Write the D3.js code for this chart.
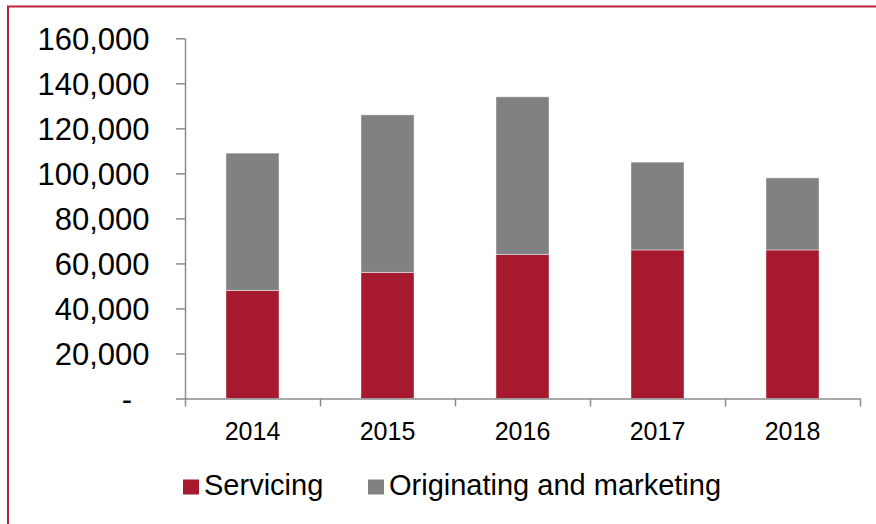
<!DOCTYPE html>
<html>
<head>
<meta charset="utf-8">
<script src="https://cdn.jsdelivr.net/npm/d3@7"></script>
<style>
  body { margin: 0; background: #fff; }
  svg text { font-family: "Liberation Sans", Arial, sans-serif; fill: #000; }
</style>
</head>
<body>
<svg id="chart" width="876" height="524"></svg>
<script>
//Chart data
var years = ["2014", "2015", "2016", "2017", "2018"];
var servicing = [48000, 56000, 64000, 66000, 66000];
var originating = [61000, 70000, 70000, 39000, 32000];
var seriesNames = ["Servicing", "Originating and marketing"];
var yTicks = [0, 20000, 40000, 60000, 80000, 100000, 120000, 140000, 160000];

var redColor = "#a6192e";
var greyColor = "#808183";
var axisColor = "#8c8c8c";

var svg = d3.select("svg#chart");

//Frame round the chart (only left and top are visible)
svg.append("rect")
  .attr("x", 8)
  .attr("y", 6.5)
  .attr("width", 900)
  .attr("height", 540)
  .attr("fill", "none")
  .attr("stroke", "#b8223a")
  .attr("stroke-width", 2);

var plot = { left: 185, right: 860, top: 38.3, bottom: 398.5 };

//Scales
var x = d3.scaleBand()
  .domain(years)
  .range([plot.left, plot.right])
  .paddingInner(0.607)
  .paddingOuter(0.607 / 2);

var y = d3.scaleLinear()
  .domain([0, 160000])
  .range([plot.bottom, plot.top]);

//Stack the two series
var table = years.map(function (d, i) {
  return { year: d, servicing: servicing[i], originating: originating[i] };
});
var stacked = d3.stack().keys(["servicing", "originating"])(table);
var colors = [redColor, greyColor];

svg.append("g")
  .selectAll("g")
  .data(stacked)
  .enter().append("g")
    .attr("fill", function (d, i) { return colors[i]; })
  .selectAll("rect")
  .data(function (d) { return d; })
  .enter().append("rect")
    .attr("x", function (d) { return x(d.data.year); })
    .attr("y", function (d) { return y(d[1]); })
    .attr("width", x.bandwidth())
    .attr("height", function (d) { return y(d[0]) - y(d[1]); })
    .attr("stroke", "rgba(255,255,255,0.45)")
    .attr("stroke-width", 1);

//Y axis
var yAxis = svg.append("g")
  .attr("transform", "translate(" + plot.left + ",0)")
  .call(d3.axisLeft(y)
    .tickValues(yTicks)
    .tickSize(9)
    .tickSizeOuter(0)
    .tickPadding(26.5)
    .tickFormat(function (d) { return d === 0 ? "-" : d3.format(",")(d); }));

yAxis.selectAll("text")
  .style("font-size", "31px")
  .attr("dy", "0.35em")
  .attr("dx", function (d) { return d === 0 ? -17.5 : 0; });

//X axis line with ticks at the category boundaries
var xb = d3.scaleLinear().domain([0, years.length]).range([plot.left, plot.right]);
svg.append("g")
  .attr("transform", "translate(0," + plot.bottom + ")")
  .call(d3.axisBottom(xb)
    .tickValues(d3.range(years.length + 1))
    .tickSize(8)
    .tickSizeOuter(0)
    .tickFormat(""));

//X labels
var xAxis = svg.append("g")
  .attr("transform", "translate(0," + plot.bottom + ")")
  .call(d3.axisBottom(x).tickSize(0).tickPadding(0));
xAxis.select(".domain").remove();
xAxis.selectAll("text")
  .style("font-size", "25px")
  .attr("y", 41)
  .attr("dy", 0);

svg.selectAll(".domain, .tick line")
  .attr("stroke", axisColor)
  .attr("stroke-width", 1.5);

//Legend
var legendX = [183, 368];
var legend = svg.append("g")
  .selectAll("g")
  .data(seriesNames)
  .enter().append("g")
    .attr("transform", function (d, i) { return "translate(" + legendX[i] + ",0)"; });

legend.append("rect")
  .attr("x", 0)
  .attr("y", 479.5)
  .attr("width", 16)
  .attr("height", 15)
  .attr("fill", function (d, i) { return colors[i]; });

legend.append("text")
  .attr("x", 21)
  .attr("y", 494.5)
  .style("font-size", "29px")
  .text(function (d) { return d; });
</script>
</body>
</html>
